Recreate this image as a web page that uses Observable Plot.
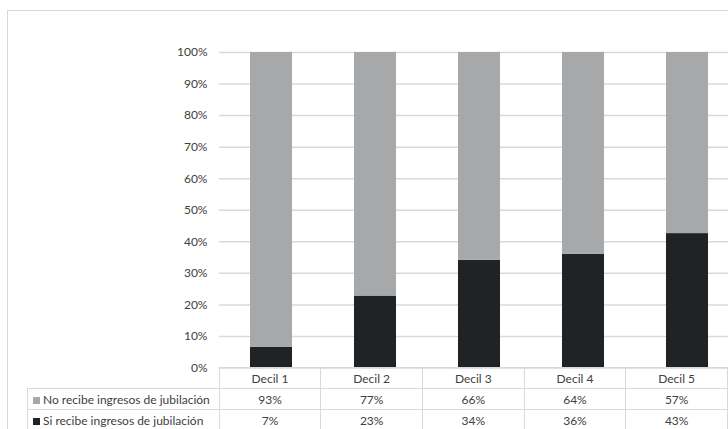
<!DOCTYPE html>
<html><head><meta charset="utf-8">
<script src="https://cdn.jsdelivr.net/npm/d3@7"></script>
<script src="https://cdn.jsdelivr.net/npm/@observablehq/plot@0.6"></script>
<style>
html,body{margin:0;padding:0;background:#fff;}
#page{position:relative;width:728px;height:429px;overflow:hidden;font-family:Lato,"Open Sans",sans-serif;}
#frame{position:absolute;left:7px;top:10px;width:900px;height:600px;border-left:1.5px solid #d9d9d9;border-top:1.5px solid #d9d9d9;box-sizing:border-box;}
#chart{position:absolute;left:0;top:0;width:760px;}
#chart svg{max-width:none !important;overflow:visible;}
#tbl{position:absolute;left:27px;top:367px;border-collapse:collapse;table-layout:fixed;font-size:12px;color:#404040;}
#tbl td{height:21px;padding:0;border:1.5px solid #d9d9d9;text-align:center;box-sizing:border-box;white-space:nowrap;}
#tbl td.empty{border-top:none;border-left:none;}
#tbl td.lab{text-align:left;padding-left:5px;}
.key{display:inline-block;width:7px;height:7px;margin-right:3px;vertical-align:0px;}
</style>
</head><body>
<div id="page">
  <div id="frame"></div>
  <div id="chart"></div>
  <table id="tbl"></table>
</div>
<script>
const deciles = ["Decil 1","Decil 2","Decil 3","Decil 4","Decil 5"];
const siRecibe = [6.6, 22.8, 34.1, 36.0, 42.6];
const noRecibe = [93.4, 77.2, 65.9, 64.0, 57.4];
const series = ["Si recibe ingresos de jubilación","No recibe ingresos de jubilación"];
const colors = ["#1f2326","#a6a8a9"];
const yTicks = [0,10,20,30,40,50,60,70,80,90,100];

const rows = deciles.flatMap((d,i)=>[
  {decil:d, serie:series[0], value:siRecibe[i]},
  {decil:d, serie:series[1], value:noRecibe[i]}
]);

const plot = Plot.plot({
  width: 760, height: 369,
  marginLeft: 219, marginRight: 21, marginTop: 52, marginBottom: 1.5,
  style: {background:"transparent", fontFamily:"Lato, sans-serif", fontSize:"12px", color:"#404040", maxWidth:"none", overflow:"visible"},
  x: {domain: deciles, paddingInner: 0.6, paddingOuter: 0.3, axis: null},
  y: {domain:[0,100], ticks: yTicks, tickFormat: d => d + "%", tickSize: 0, tickPadding: 12, label: null},
  color: {domain: series, range: colors},
  marks: [
    Plot.ruleY(yTicks, {stroke:"#d9d9d9", strokeWidth:1.5}),
    Plot.barY(rows, {x:"decil", y:"value", fill:"serie"})
  ]
});
document.getElementById("chart").appendChild(plot);

// data table below the chart (Excel-style)
const tbl = d3.select("#tbl");
const cg = tbl.append("colgroup");
cg.append("col").style("width","192px");
deciles.forEach(()=>cg.append("col").style("width","104px"));
const hdr = tbl.append("tr");
hdr.append("td").attr("class","empty");
deciles.forEach(d=>hdr.append("td").text(d));
const tableRows = [
  {name: series[1], color: colors[1], vals: noRecibe},
  {name: series[0], color: colors[0], vals: siRecibe}
];
tableRows.forEach(r=>{
  const tr = tbl.append("tr");
  const lab = tr.append("td").attr("class","lab");
  lab.append("span").attr("class","key").style("background", r.color);
  lab.append("span").text(r.name);
  r.vals.forEach(v=>tr.append("td").text(Math.round(v) + "%"));
});
</script>
</body></html>
